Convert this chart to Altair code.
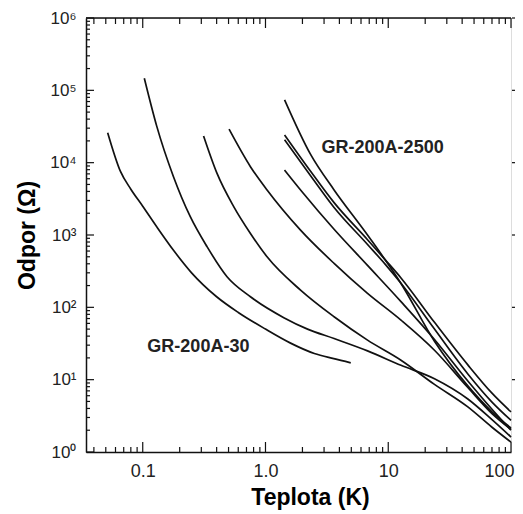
import altair as alt
import pandas as pd

# ---- data (temperature in K, resistance in Ohm) ----
A_T = [0.0518, 0.066, 0.08, 0.1, 0.13, 0.18, 0.25, 0.4, 0.6, 1.0, 1.6, 2.5, 3.6, 4.95]
A_R = [2.6e4, 7.5e3, 4.3e3, 2.5e3, 1.3e3, 600, 300, 140, 85, 50, 32, 23, 19.5, 17.1]

B_T = [0.103, 0.13, 0.178, 0.244, 0.334, 0.486, 0.754, 1.41, 2.2, 3.62, 6.78, 12.7, 23.8, 44.5, 70, 100]
B_R = [1.47e5, 3.2e4, 6.4e3, 1.79e3, 690, 265, 140, 72, 50, 37, 25, 15.8, 10.3, 5.4, 2.8, 1.61]

C_T = [0.313, 0.403, 0.551, 0.754, 1.03, 1.93, 3.62, 6.78, 12.7, 23.8, 44.5, 70, 100]
C_R = [2.34e4, 7.1e3, 2.47e3, 1.05e3, 500, 173, 74, 35.2, 18.6, 8.6, 4.2, 2.2, 1.37]

D_T = [0.505, 0.754, 1.03, 1.93, 3.62, 6.78, 12.7, 23.8, 44.5, 70, 100]
D_R = [2.9e4, 8.8e3, 4.2e3, 1.17e3, 405, 156, 66.5, 25.5, 7.8, 3.4, 2.05]

E_T = [1.43, 2.33, 3.62, 6.78, 12.7, 23.8, 44.5, 70, 100]
E_R = [7.4e4, 1.3e4, 4.2e3, 1.0e3, 214, 34, 8.2, 3.6, 2.15]

F_T = [1.43, 2.33, 3.62, 6.78, 9.5, 12.7, 23.8, 44.5, 70, 100]
F_R = [2.42e4, 7.6e3, 2.8e3, 860, 450, 255, 62, 16, 6.5, 3.58]

F2_T = [1.43, 2.33, 3.62, 6.78, 9.5, 12.7, 23.8, 44.5, 70, 100]
F2_R = [2.07e4, 6.6e3, 2.4e3, 740, 390, 215, 50, 12, 4.9, 2.74]

G_T = [1.43, 2.0, 3.62, 6.78, 12.7, 23.8, 44.5, 70, 100]
G_R = [7.9e3, 3.9e3, 1.2e3, 380, 120, 36, 9.6, 3.9, 2.0]

curves = {"A": (A_T, A_R), "B": (B_T, B_R), "C": (C_T, C_R), "D": (D_T, D_R),
          "E": (E_T, E_R), "F": (F_T, F_R), "F2": (F2_T, F2_R), "G": (G_T, G_R)}

label_text = ["GR-200A-2500", "GR-200A-30"]
label_T = [9.0, 0.284]
label_R = [1.6e4, 28.3]

x_tick_values = [0.1, 1, 10, 100]
x_tick_labels = ["0.1", "1.0", "10", "100"]
y_tick_values = [1, 10, 100, 1000, 1e4, 1e5, 1e6]
y_tick_labels = ["10⁰", "10¹", "10²", "10³", "10⁴", "10⁵", "10⁶"]

x_minor = [m * 10 ** k for k in (-2, -1, 0, 1) for m in range(2, 10) if 0.0345 <= m * 10 ** k <= 100]
y_minor = [m * 10 ** k for k in range(0, 6) for m in range(2, 10)]

W, H = 425, 434
FONT = "Liberation Sans"


def label_expr(values, labels):
    expr = "'" + labels[-1] + "'"
    for v, lab in reversed(list(zip(values[:-1], labels[:-1]))):
        expr = f"datum.value < {v * 3} ? '{lab}' : " + expr
    return expr


rows = []
for name, (ts, rs) in curves.items():
    for t, r in zip(ts, rs):
        rows.append({"curve": name, "T": t, "R": r})
df = pd.DataFrame(rows)

xs = alt.Scale(type="log", domain=[0.0345, 100], nice=False)
ys = alt.Scale(type="log", domain=[1, 1e6], nice=False)

lines = alt.Chart(df).mark_line(color="#111", strokeWidth=1.7, interpolate="monotone").encode(
    x=alt.X("T:Q", scale=xs, axis=alt.Axis(
        values=x_tick_values, labelExpr=label_expr(x_tick_values, x_tick_labels),
        title="Teplota (K)", ticks=False, grid=False, domainColor="#111", domainWidth=1.5,
        labelFont=FONT, labelFontSize=18, labelPadding=10, labelColor="#222",
        titleFont=FONT, titleFontSize=23, titleFontWeight="bold", titleColor="#000",
        titlePadding=6, titleX=224, labelFlush=True, labelFlushOffset=3)),
    y=alt.Y("R:Q", scale=ys, axis=alt.Axis(
        values=y_tick_values, labelExpr=label_expr(y_tick_values, y_tick_labels),
        title="Odpor (Ω)", ticks=False, grid=False, domainColor="#111", domainWidth=1.5,
        labelFont=FONT, labelFontSize=17, labelPadding=10, labelColor="#222",
        titleFont=FONT, titleFontSize=23, titleFontWeight="bold", titleColor="#000",
        titlePadding=10, labelFlush=False)),
    detail="curve:N",
)

texts = alt.Chart(pd.DataFrame({"t": label_text, "T": label_T, "R": label_R})).mark_text(
    font=FONT, fontSize=18, fontWeight="bold", color="#222", align="center", baseline="middle"
).encode(x=alt.X("T:Q", scale=xs, axis=None), y=alt.Y("R:Q", scale=ys, axis=None), text="t:N")

ymaj = pd.DataFrame({"v": y_tick_values})
ymin = pd.DataFrame({"v": y_minor})
xmaj = pd.DataFrame({"v": x_tick_values})
xmin = pd.DataFrame({"v": x_minor})

rule_kw = dict(color="#111", strokeWidth=1.2)


def yrule(d, a, b):
    return alt.Chart(d).mark_rule(**rule_kw).encode(
        y=alt.Y("v:Q", scale=ys, axis=None), x=alt.value(a), x2=alt.value(b))


def xrule(d, a, b):
    return alt.Chart(d).mark_rule(**rule_kw).encode(
        x=alt.X("v:Q", scale=xs, axis=None), y=alt.value(a), y2=alt.value(b))


top_spine = alt.Chart(pd.DataFrame({"a": [0]})).mark_rule(color="#111", strokeWidth=1.5).encode(
    x=alt.value(0), x2=alt.value(W), y=alt.value(0))

chart = alt.layer(
    lines, texts,
    yrule(ymaj, 0, 8), yrule(ymin, 0, 4),
    yrule(ymaj[ymaj.v > 1], W + 1, W + 4),
    xrule(xmaj, H, H - 10), xrule(xmin, H, H - 5),
    xrule(xmaj, 0, 10), xrule(xmin, 0, 6),
    top_spine,
).resolve_axis(x="independent", y="independent").properties(
    width=W, height=H,
    autosize=alt.AutoSizeParams(type="none"),
    padding={"left": 78, "top": 10, "right": 4, "bottom": 60},
).configure_view(strokeWidth=0).configure(background="white")

chart.save("out.html", embed_options={"renderer": "svg", "actions": False})
